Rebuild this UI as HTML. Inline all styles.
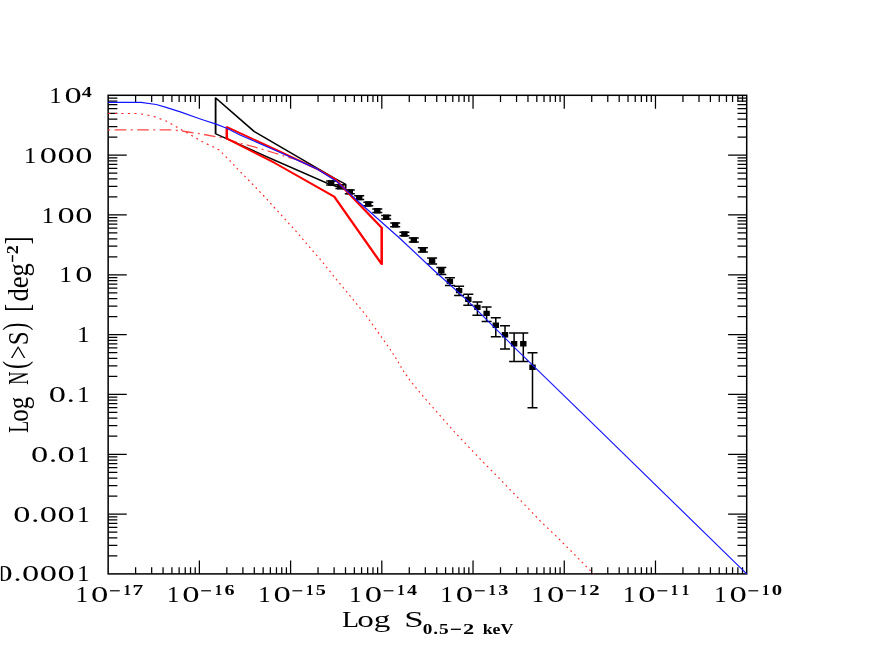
<!DOCTYPE html>
<html><head><meta charset="utf-8"><title>Log N - Log S</title>
<style>
html,body{margin:0;padding:0;background:#fff;}
body{width:872px;height:654px;overflow:hidden;}
svg{display:block;will-change:transform;}
text{font-family:"Liberation Serif",serif;fill:#000;}
</style></head><body>
<svg width="872" height="654" viewBox="0 0 872 654">
<rect x="0" y="0" width="872" height="654" fill="#fff"/>
<defs><clipPath id="cutL"><rect x="1.0" y="540" width="60" height="60"/></clipPath></defs>
<path d="M135.61,95.30 v6.7 M135.61,573.90 v-6.7 M151.67,95.30 v6.7 M151.67,573.90 v-6.7 M163.07,95.30 v6.7 M163.07,573.90 v-6.7 M171.91,95.30 v6.7 M171.91,573.90 v-6.7 M179.13,95.30 v6.7 M179.13,573.90 v-6.7 M185.24,95.30 v6.7 M185.24,573.90 v-6.7 M190.53,95.30 v6.7 M190.53,573.90 v-6.7 M195.20,95.30 v6.7 M195.20,573.90 v-6.7 M199.37,95.30 v13.4 M199.37,573.90 v-13.4 M226.83,95.30 v6.7 M226.83,573.90 v-6.7 M242.90,95.30 v6.7 M242.90,573.90 v-6.7 M254.29,95.30 v6.7 M254.29,573.90 v-6.7 M263.13,95.30 v6.7 M263.13,573.90 v-6.7 M270.36,95.30 v6.7 M270.36,573.90 v-6.7 M276.46,95.30 v6.7 M276.46,573.90 v-6.7 M281.75,95.30 v6.7 M281.75,573.90 v-6.7 M286.42,95.30 v6.7 M286.42,573.90 v-6.7 M290.59,95.30 v13.4 M290.59,573.90 v-13.4 M318.05,95.30 v6.7 M318.05,573.90 v-6.7 M334.12,95.30 v6.7 M334.12,573.90 v-6.7 M345.51,95.30 v6.7 M345.51,573.90 v-6.7 M354.35,95.30 v6.7 M354.35,573.90 v-6.7 M361.58,95.30 v6.7 M361.58,573.90 v-6.7 M367.68,95.30 v6.7 M367.68,573.90 v-6.7 M372.97,95.30 v6.7 M372.97,573.90 v-6.7 M377.64,95.30 v6.7 M377.64,573.90 v-6.7 M381.81,95.30 v13.4 M381.81,573.90 v-13.4 M409.27,95.30 v6.7 M409.27,573.90 v-6.7 M425.34,95.30 v6.7 M425.34,573.90 v-6.7 M436.74,95.30 v6.7 M436.74,573.90 v-6.7 M445.58,95.30 v6.7 M445.58,573.90 v-6.7 M452.80,95.30 v6.7 M452.80,573.90 v-6.7 M458.91,95.30 v6.7 M458.91,573.90 v-6.7 M464.20,95.30 v6.7 M464.20,573.90 v-6.7 M468.86,95.30 v6.7 M468.86,573.90 v-6.7 M473.04,95.30 v13.4 M473.04,573.90 v-13.4 M500.50,95.30 v6.7 M500.50,573.90 v-6.7 M516.56,95.30 v6.7 M516.56,573.90 v-6.7 M527.96,95.30 v6.7 M527.96,573.90 v-6.7 M536.80,95.30 v6.7 M536.80,573.90 v-6.7 M544.02,95.30 v6.7 M544.02,573.90 v-6.7 M550.13,95.30 v6.7 M550.13,573.90 v-6.7 M555.42,95.30 v6.7 M555.42,573.90 v-6.7 M560.08,95.30 v6.7 M560.08,573.90 v-6.7 M564.26,95.30 v13.4 M564.26,573.90 v-13.4 M591.72,95.30 v6.7 M591.72,573.90 v-6.7 M607.78,95.30 v6.7 M607.78,573.90 v-6.7 M619.18,95.30 v6.7 M619.18,573.90 v-6.7 M628.02,95.30 v6.7 M628.02,573.90 v-6.7 M635.24,95.30 v6.7 M635.24,573.90 v-6.7 M641.35,95.30 v6.7 M641.35,573.90 v-6.7 M646.64,95.30 v6.7 M646.64,573.90 v-6.7 M651.30,95.30 v6.7 M651.30,573.90 v-6.7 M655.48,95.30 v13.4 M655.48,573.90 v-13.4 M682.94,95.30 v6.7 M682.94,573.90 v-6.7 M699.00,95.30 v6.7 M699.00,573.90 v-6.7 M710.40,95.30 v6.7 M710.40,573.90 v-6.7 M719.24,95.30 v6.7 M719.24,573.90 v-6.7 M726.46,95.30 v6.7 M726.46,573.90 v-6.7 M732.57,95.30 v6.7 M732.57,573.90 v-6.7 M737.86,95.30 v6.7 M737.86,573.90 v-6.7 M742.53,95.30 v6.7 M742.53,573.90 v-6.7 M108.15,555.89 h9.2 M746.70,555.89 h-9.2 M108.15,545.36 h9.2 M746.70,545.36 h-9.2 M108.15,537.88 h9.2 M746.70,537.88 h-9.2 M108.15,532.08 h9.2 M746.70,532.08 h-9.2 M108.15,527.35 h9.2 M746.70,527.35 h-9.2 M108.15,523.34 h9.2 M746.70,523.34 h-9.2 M108.15,519.87 h9.2 M746.70,519.87 h-9.2 M108.15,516.81 h9.2 M746.70,516.81 h-9.2 M108.15,514.07 h18.6 M746.70,514.07 h-18.6 M108.15,496.07 h9.2 M746.70,496.07 h-9.2 M108.15,485.53 h9.2 M746.70,485.53 h-9.2 M108.15,478.06 h9.2 M746.70,478.06 h-9.2 M108.15,472.26 h9.2 M746.70,472.26 h-9.2 M108.15,467.52 h9.2 M746.70,467.52 h-9.2 M108.15,463.52 h9.2 M746.70,463.52 h-9.2 M108.15,460.05 h9.2 M746.70,460.05 h-9.2 M108.15,456.99 h9.2 M746.70,456.99 h-9.2 M108.15,454.25 h18.6 M746.70,454.25 h-18.6 M108.15,436.24 h9.2 M746.70,436.24 h-9.2 M108.15,425.71 h9.2 M746.70,425.71 h-9.2 M108.15,418.23 h9.2 M746.70,418.23 h-9.2 M108.15,412.43 h9.2 M746.70,412.43 h-9.2 M108.15,407.70 h9.2 M746.70,407.70 h-9.2 M108.15,403.69 h9.2 M746.70,403.69 h-9.2 M108.15,400.22 h9.2 M746.70,400.22 h-9.2 M108.15,397.16 h9.2 M746.70,397.16 h-9.2 M108.15,394.43 h18.6 M746.70,394.43 h-18.6 M108.15,376.42 h9.2 M746.70,376.42 h-9.2 M108.15,365.88 h9.2 M746.70,365.88 h-9.2 M108.15,358.41 h9.2 M746.70,358.41 h-9.2 M108.15,352.61 h9.2 M746.70,352.61 h-9.2 M108.15,347.87 h9.2 M746.70,347.87 h-9.2 M108.15,343.87 h9.2 M746.70,343.87 h-9.2 M108.15,340.40 h9.2 M746.70,340.40 h-9.2 M108.15,337.34 h9.2 M746.70,337.34 h-9.2 M108.15,334.60 h18.6 M746.70,334.60 h-18.6 M108.15,316.59 h9.2 M746.70,316.59 h-9.2 M108.15,306.06 h9.2 M746.70,306.06 h-9.2 M108.15,298.58 h9.2 M746.70,298.58 h-9.2 M108.15,292.78 h9.2 M746.70,292.78 h-9.2 M108.15,288.05 h9.2 M746.70,288.05 h-9.2 M108.15,284.04 h9.2 M746.70,284.04 h-9.2 M108.15,280.57 h9.2 M746.70,280.57 h-9.2 M108.15,277.51 h9.2 M746.70,277.51 h-9.2 M108.15,274.77 h18.6 M746.70,274.77 h-18.6 M108.15,256.77 h9.2 M746.70,256.77 h-9.2 M108.15,246.23 h9.2 M746.70,246.23 h-9.2 M108.15,238.76 h9.2 M746.70,238.76 h-9.2 M108.15,232.96 h9.2 M746.70,232.96 h-9.2 M108.15,228.22 h9.2 M746.70,228.22 h-9.2 M108.15,224.22 h9.2 M746.70,224.22 h-9.2 M108.15,220.75 h9.2 M746.70,220.75 h-9.2 M108.15,217.69 h9.2 M746.70,217.69 h-9.2 M108.15,214.95 h18.6 M746.70,214.95 h-18.6 M108.15,196.94 h9.2 M746.70,196.94 h-9.2 M108.15,186.41 h9.2 M746.70,186.41 h-9.2 M108.15,178.93 h9.2 M746.70,178.93 h-9.2 M108.15,173.13 h9.2 M746.70,173.13 h-9.2 M108.15,168.40 h9.2 M746.70,168.40 h-9.2 M108.15,164.39 h9.2 M746.70,164.39 h-9.2 M108.15,160.92 h9.2 M746.70,160.92 h-9.2 M108.15,157.86 h9.2 M746.70,157.86 h-9.2 M108.15,155.12 h18.6 M746.70,155.12 h-18.6 M108.15,137.12 h9.2 M746.70,137.12 h-9.2 M108.15,126.58 h9.2 M746.70,126.58 h-9.2 M108.15,119.11 h9.2 M746.70,119.11 h-9.2 M108.15,113.31 h9.2 M746.70,113.31 h-9.2 M108.15,108.57 h9.2 M746.70,108.57 h-9.2 M108.15,104.57 h9.2 M746.70,104.57 h-9.2 M108.15,101.10 h9.2 M746.70,101.10 h-9.2 M108.15,98.04 h9.2 M746.70,98.04 h-9.2" fill="none" stroke="#000" stroke-width="1.25"/>
<rect x="108.15" y="95.30" width="638.55" height="478.60" fill="none" stroke="#000" stroke-width="1.5"/>
<path d="M331.2,181.1 V184.9 M326.2,181.1 H336.2 M326.2,184.9 H336.2 M340.4,184.8 V188.6 M335.4,184.8 H345.4 M335.4,188.6 H345.4 M349.8,190.0 V193.8 M344.8,190.0 H354.8 M344.8,193.8 H354.8 M359.2,195.7 V199.5 M354.2,195.7 H364.2 M354.2,199.5 H364.2 M368.3,202.2 V205.8 M363.3,202.2 H373.3 M363.3,205.8 H373.3 M377.3,208.9 V212.5 M372.3,208.9 H382.3 M372.3,212.5 H382.3 M386.2,215.5 V219.1 M381.2,215.5 H391.2 M381.2,219.1 H391.2 M395.2,223.1 V226.7 M390.2,223.1 H400.2 M390.2,226.7 H400.2 M404.4,232.2 V235.8 M399.4,232.2 H409.4 M399.4,235.8 H409.4 M413.8,238.1 V241.9 M408.8,238.1 H418.8 M408.8,241.9 H418.8 M422.9,247.8 V252.0 M417.9,247.8 H427.9 M417.9,252.0 H427.9 M432.1,257.9 V263.9 M427.1,257.9 H437.1 M427.1,263.9 H437.1 M441.3,267.6 V274.4 M436.3,267.6 H446.3 M436.3,274.4 H446.3 M449.9,277.7 V285.6 M444.9,277.7 H454.9 M444.9,285.6 H454.9 M459.1,286.3 V295.5 M454.1,286.3 H464.1 M454.1,295.5 H464.1 M468.3,294.2 V305.2 M463.3,294.2 H473.3 M463.3,305.2 H473.3 M477.4,301.9 V315.2 M472.4,301.9 H482.4 M472.4,315.2 H482.4 M486.6,307.0 V321.5 M481.6,307.0 H491.6 M481.6,321.5 H491.6 M495.8,317.7 V336.8 M490.8,317.7 H500.8 M490.8,336.8 H500.8 M505.0,325.7 V349.0 M500.0,325.7 H510.0 M500.0,349.0 H510.0 M514.1,333.0 V361.5 M509.1,333.0 H519.1 M509.1,361.5 H519.1 M523.3,333.0 V361.5 M518.3,333.0 H528.3 M518.3,361.5 H528.3 M532.5,352.7 V407.7 M527.5,352.7 H537.5 M527.5,407.7 H537.5" fill="none" stroke="#000" stroke-width="1.5"/>
<path d="M328.0,180.3 h6.4 v5.4 h-6.4 z M337.2,184.0 h6.4 v5.4 h-6.4 z M346.6,189.2 h6.4 v5.4 h-6.4 z M356.0,194.9 h6.4 v5.4 h-6.4 z M365.1,201.3 h6.4 v5.4 h-6.4 z M374.1,208.0 h6.4 v5.4 h-6.4 z M383.0,214.6 h6.4 v5.4 h-6.4 z M392.0,222.2 h6.4 v5.4 h-6.4 z M401.2,231.3 h6.4 v5.4 h-6.4 z M410.6,237.3 h6.4 v5.4 h-6.4 z M419.7,247.2 h6.4 v5.4 h-6.4 z M428.9,258.0 h6.4 v5.4 h-6.4 z M438.1,268.0 h6.4 v5.4 h-6.4 z M446.7,278.7 h6.4 v5.4 h-6.4 z M455.9,287.9 h6.4 v5.4 h-6.4 z M465.1,296.7 h6.4 v5.4 h-6.4 z M474.2,304.7 h6.4 v5.4 h-6.4 z M483.4,310.7 h6.4 v5.4 h-6.4 z M492.6,322.6 h6.4 v5.4 h-6.4 z M501.8,332.0 h6.4 v5.4 h-6.4 z M510.9,341.0 h6.4 v5.4 h-6.4 z M520.1,341.0 h6.4 v5.4 h-6.4 z M529.3,364.6 h6.4 v5.4 h-6.4 z" fill="#000"/>
<g transform="scale(1.4,1)"><path d="M154.00,97.8 L181.57,131.5 L239.21,178.5 L246.86,184.2 L246.86,189.6 L234.36,183.6 L196.43,160.4 L154.00,133.8 Z" fill="none" stroke="#000" stroke-width="1.3" stroke-linejoin="round"/></g>
<path d="M108.2,113.5 L110.3,113.5 M114.8,113.5 L116.9,113.5 M121.4,113.5 L123.5,113.5 M127.9,113.5 L130.0,113.5 M134.5,113.5 L136.6,113.5 M141.1,114.0 L143.1,114.2 M147.5,115.0 L149.4,115.5 M153.7,116.5 L153.8,116.5 L155.6,117.1 M159.6,118.6 L161.5,119.2 M165.5,120.7 L167.1,121.6 M170.6,123.6 L172.3,124.5 M175.8,126.5 L177.4,127.5 M180.9,129.4 L182.6,130.4 M186.1,132.3 L187.8,133.3 M191.3,135.3 L192.9,136.2 M196.3,138.3 L198.0,139.2 M201.4,141.2 L202.0,141.6 L203.1,142.1 M206.8,143.9 L208.6,144.7 M212.3,146.5 L214.1,147.3 M217.6,149.2 L219.3,150.1 M221.9,152.7 L223.0,154.0 M225.7,156.6 L226.5,157.3 L227.0,157.8 M229.6,160.4 L230.8,161.6 M233.3,164.3 L234.4,165.5 M236.8,168.2 L238.0,169.4 M240.6,172.1 L241.8,173.3 M244.4,175.9 L245.6,177.1 M248.2,179.7 L249.4,181.0 M252.0,183.6 L253.2,184.8 M255.7,187.5 L256.9,188.7 M259.4,191.3 L260.6,192.6 M263.1,195.2 L264.3,196.5 M266.8,199.1 L267.9,200.4 M270.3,203.1 L271.5,204.3 M273.9,207.0 L275.1,208.3 M277.5,211.0 L278.7,212.2 M281.1,214.9 L281.2,215.0 L282.2,216.2 M284.7,218.8 L285.8,220.1 M288.3,222.8 L289.4,224.0 M291.9,226.7 L293.0,228.0 M295.5,230.7 L296.5,231.8 L296.6,231.9 M298.9,234.7 L300.0,235.9 M302.3,238.7 L303.4,240.0 M305.7,242.7 L306.8,244.0 M309.2,246.7 L310.3,248.0 M312.6,250.7 L313.7,252.0 M316.1,254.7 L317.2,255.9 M319.6,258.7 L320.6,259.8 L320.7,259.9 M322.9,262.7 L324.0,264.0 M326.2,266.8 L327.2,268.1 M329.5,270.9 L330.5,272.2 M332.7,275.0 L333.8,276.3 M336.0,279.0 L337.1,280.3 M339.4,283.1 L340.5,284.4 M342.8,287.1 L343.8,288.4 M346.1,291.1 L347.2,292.4 M349.5,295.2 L350.6,296.5 M352.8,299.2 L353.9,300.5 M356.2,303.3 L357.2,304.6 M359.5,307.3 L360.5,308.6 M362.8,311.4 L363.8,312.7 M366.0,315.5 L367.0,316.8 M369.0,319.7 L370.0,321.0 M372.1,323.8 L373.0,325.2 M375.1,328.0 L376.0,329.4 M378.0,332.2 L379.0,333.6 M381.0,336.4 L381.9,337.8 M384.0,340.6 L384.9,342.0 M386.9,344.8 L387.9,346.2 M389.9,349.0 L390.8,350.4 M392.7,353.3 L393.6,354.6 M395.5,357.5 L395.9,358.1 L396.4,358.9 M398.1,361.8 L398.9,363.2 M400.6,366.2 L401.4,367.6 M403.2,370.5 L403.5,371.1 L404.0,371.9 M406.0,374.7 L407.0,376.1 M409.0,378.9 L409.6,379.8 L410.0,380.3 M412.2,383.0 L413.2,384.3 M415.5,387.1 L416.5,388.4 L416.5,388.4 M418.8,391.2 L419.9,392.4 M422.2,395.2 L423.3,396.5 M425.6,399.2 L426.7,400.5 M429.1,403.2 L430.2,404.5 M432.6,407.2 L433.7,408.4 M436.1,411.1 L437.2,412.4 M439.6,415.1 L440.8,416.4 M443.1,419.1 L444.3,420.4 M446.7,423.1 L447.8,424.3 M450.2,427.0 L451.3,428.3 M453.7,431.0 L454.8,432.3 M457.3,435.0 L458.5,436.2 M461.0,438.8 L462.2,440.1 M464.7,442.7 L465.8,444.0 M468.4,446.6 L469.5,447.9 M472.1,450.5 L473.2,451.7 M475.8,454.4 L477.0,455.6 M479.5,458.3 L480.7,459.5 M483.2,462.1 L484.4,463.4 M486.9,466.0 L488.2,467.2 M490.8,469.8 L492.0,471.1 M494.6,473.6 L495.8,474.9 M498.5,477.5 L499.6,478.7 M502.2,481.4 L503.3,482.6 M505.9,485.2 L507.0,486.5 M509.6,489.1 L510.2,489.8 L510.7,490.4 M513.3,493.0 L514.5,494.2 M517.1,496.8 L518.3,498.1 M520.8,500.7 L522.0,501.9 M524.6,504.6 L525.3,505.3 L525.8,505.8 M528.3,508.4 L529.5,509.7 M532.0,512.3 L533.2,513.6 M535.7,516.2 L536.9,517.5 M539.4,520.1 L540.5,521.3 L540.6,521.4 M543.2,523.9 L544.5,525.1 M547.2,527.7 L548.4,528.9 M551.1,531.4 L552.4,532.6 M555.1,535.2 L556.3,536.4 M559.0,539.0 L560.2,540.2 M562.8,542.8 L564.0,544.0 M566.6,546.6 L567.8,547.8 M570.5,550.5 L571.7,551.7 M574.3,554.3 L575.5,555.5 M578.1,558.1 L579.3,559.3 M581.8,562.0 L583.1,563.2 M585.6,565.8 L586.8,567.0 M589.4,569.7 L590.6,570.9 M593.2,573.5 L593.6,573.9" fill="none" stroke="#ff2020" stroke-width="1.15"/>
<path d="M108.2,129.8 L110.2,129.8 M114.6,129.8 L126.3,129.8 M130.7,129.8 L132.7,129.8 M137.2,129.8 L148.8,129.8 M153.3,129.8 L155.2,129.8 M159.7,129.8 L169.9,129.8 L171.3,129.9 M175.8,130.3 L177.7,130.5 M182.1,131.1 L188.2,132.0 L193.5,132.8 M197.9,133.4 L199.1,133.6 L199.8,133.7 M204.1,134.5 L215.4,136.7 M219.7,137.4 L221.1,137.6 L221.6,137.7 M225.8,138.9 L236.5,142.1 M240.7,143.3 L242.2,143.7 L242.5,143.8 M246.7,144.9 L257.6,147.8 M261.7,149.1 L263.5,149.6 M267.6,150.9 L268.4,151.2 L274.4,153.0 L278.3,154.2 M282.4,155.5 L284.2,156.1 M288.3,157.3 L295.0,159.2" fill="none" stroke="#ff4848" stroke-width="1.3"/>
<g transform="scale(1.4,1)"><path d="M162.00,127.1 L196.43,149.2 L226.50,168.9 L239.43,179.3 L272.64,227.7 L272.64,264.2 L238.86,196.8 L196.43,163.1 L162.00,138.5 Z" fill="none" stroke="#ff0000" stroke-width="1.8" stroke-linejoin="round"/></g>
<path d="M108.20,102.4 L141.00,102.4 L156.20,104.5 L165.30,107.1 L180.30,111.9 L198.90,118.5 L203.30,120.0 L216.10,124.1 L226.80,128.3 L240.00,135.0 L275.00,150.3 L281.30,153.0 L317.10,168.9 L336.30,181.2 L355.10,198.7 L360.00,203.0 L400.00,238.5 L433.00,269.5 L467.30,300.4 L515.60,348.6 L588.40,419.4 L746.70,573.9" fill="none" stroke="#1414ff" stroke-width="1.15" stroke-linejoin="round"/>
<text transform="translate(75.21,162.68) scale(1.498,1.0)" font-size="23.0">0</text>
<text transform="translate(57.46,162.68) scale(1.498,1.0)" font-size="23.0">0</text>
<text transform="translate(39.71,162.68) scale(1.498,1.0)" font-size="23.0">0</text>
<text transform="translate(23.83,162.68) scale(1.111,1.0)" font-size="23.0">1</text>
<text transform="translate(75.21,222.50) scale(1.498,1.0)" font-size="23.0">0</text>
<text transform="translate(57.46,222.50) scale(1.498,1.0)" font-size="23.0">0</text>
<text transform="translate(41.58,222.50) scale(1.111,1.0)" font-size="23.0">1</text>
<text transform="translate(75.21,282.32) scale(1.498,1.0)" font-size="23.0">0</text>
<text transform="translate(59.33,282.32) scale(1.111,1.0)" font-size="23.0">1</text>
<text transform="translate(77.08,342.15) scale(1.111,1.0)" font-size="23.0">1</text>
<text transform="translate(77.08,401.98) scale(1.111,1.0)" font-size="23.0">1</text>
<text transform="translate(66.63,401.98) scale(1.398,1.0)" font-size="23.0">.</text>
<text transform="translate(48.86,401.98) scale(1.498,1.0)" font-size="23.0">0</text>
<text transform="translate(77.08,461.80) scale(1.111,1.0)" font-size="23.0">1</text>
<text transform="translate(57.46,461.80) scale(1.498,1.0)" font-size="23.0">0</text>
<text transform="translate(48.88,461.80) scale(1.398,1.0)" font-size="23.0">.</text>
<text transform="translate(31.11,461.80) scale(1.498,1.0)" font-size="23.0">0</text>
<text transform="translate(77.08,521.62) scale(1.111,1.0)" font-size="23.0">1</text>
<text transform="translate(57.46,521.62) scale(1.498,1.0)" font-size="23.0">0</text>
<text transform="translate(39.71,521.62) scale(1.498,1.0)" font-size="23.0">0</text>
<text transform="translate(31.13,521.62) scale(1.398,1.0)" font-size="23.0">.</text>
<text transform="translate(13.36,521.62) scale(1.498,1.0)" font-size="23.0">0</text>
<text transform="translate(77.08,581.45) scale(1.111,1.0)" font-size="23.0">1</text>
<text transform="translate(57.46,581.45) scale(1.498,1.0)" font-size="23.0">0</text>
<text transform="translate(39.71,581.45) scale(1.498,1.0)" font-size="23.0">0</text>
<text transform="translate(21.96,581.45) scale(1.498,1.0)" font-size="23.0">0</text>
<text transform="translate(13.38,581.45) scale(1.398,1.0)" font-size="23.0">.</text>
<g clip-path="url(#cutL)"><text transform="translate(-4.39,581.45) scale(1.498,1.0)" font-size="23.0">0</text></g>
<path d="M1.7,566.4 V580.9" stroke="#000" stroke-width="1.6" fill="none"/>
<text transform="translate(49.13,102.95) scale(1.074,1.0)" font-size="23.0">1</text>
<text transform="translate(64.59,102.95) scale(1.498,1.0)" font-size="23.0">0</text>
<text transform="translate(81.63,96.85) scale(1.376,1.0)" font-size="14.6" font-weight="bold">4</text>
<text transform="translate(75.45,601.60) scale(1.111,1.0)" font-size="23.0">1</text>
<text transform="translate(90.98,601.60) scale(1.508,1.0)" font-size="23.0">0</text>
<text transform="translate(109.05,598.81) scale(1.572,1.8)" font-size="13.4">−</text>
<text transform="translate(123.50,594.90) scale(1.023,1.0)" font-size="14.6" font-weight="bold">1</text>
<text transform="translate(132.62,594.90) scale(1.473,1.0)" font-size="14.6" font-weight="bold">7</text>
<text transform="translate(166.67,601.60) scale(1.111,1.0)" font-size="23.0">1</text>
<text transform="translate(182.20,601.60) scale(1.508,1.0)" font-size="23.0">0</text>
<text transform="translate(200.27,598.81) scale(1.572,1.8)" font-size="13.4">−</text>
<text transform="translate(214.73,594.90) scale(1.023,1.0)" font-size="14.6" font-weight="bold">1</text>
<text transform="translate(224.48,594.90) scale(1.381,1.0)" font-size="14.6" font-weight="bold">6</text>
<text transform="translate(257.90,601.60) scale(1.111,1.0)" font-size="23.0">1</text>
<text transform="translate(273.42,601.60) scale(1.508,1.0)" font-size="23.0">0</text>
<text transform="translate(291.49,598.81) scale(1.572,1.8)" font-size="13.4">−</text>
<text transform="translate(305.95,594.90) scale(1.023,1.0)" font-size="14.6" font-weight="bold">1</text>
<text transform="translate(315.68,594.90) scale(1.391,1.0)" font-size="14.6" font-weight="bold">5</text>
<text transform="translate(349.12,601.60) scale(1.111,1.0)" font-size="23.0">1</text>
<text transform="translate(364.64,601.60) scale(1.508,1.0)" font-size="23.0">0</text>
<text transform="translate(382.72,598.81) scale(1.572,1.8)" font-size="13.4">−</text>
<text transform="translate(397.17,594.90) scale(1.023,1.0)" font-size="14.6" font-weight="bold">1</text>
<text transform="translate(407.04,594.90) scale(1.376,1.0)" font-size="14.6" font-weight="bold">4</text>
<text transform="translate(440.34,601.60) scale(1.111,1.0)" font-size="23.0">1</text>
<text transform="translate(455.86,601.60) scale(1.508,1.0)" font-size="23.0">0</text>
<text transform="translate(473.94,598.81) scale(1.572,1.8)" font-size="13.4">−</text>
<text transform="translate(488.39,594.90) scale(1.023,1.0)" font-size="14.6" font-weight="bold">1</text>
<text transform="translate(498.18,594.90) scale(1.376,1.0)" font-size="14.6" font-weight="bold">3</text>
<text transform="translate(531.56,601.60) scale(1.111,1.0)" font-size="23.0">1</text>
<text transform="translate(547.09,601.60) scale(1.508,1.0)" font-size="23.0">0</text>
<text transform="translate(565.16,598.81) scale(1.572,1.8)" font-size="13.4">−</text>
<text transform="translate(579.61,594.90) scale(1.023,1.0)" font-size="14.6" font-weight="bold">1</text>
<text transform="translate(589.29,594.90) scale(1.419,1.0)" font-size="14.6" font-weight="bold">2</text>
<text transform="translate(622.78,601.60) scale(1.111,1.0)" font-size="23.0">1</text>
<text transform="translate(638.31,601.60) scale(1.508,1.0)" font-size="23.0">0</text>
<text transform="translate(656.38,598.81) scale(1.572,1.8)" font-size="13.4">−</text>
<text transform="translate(670.83,594.90) scale(1.023,1.0)" font-size="14.6" font-weight="bold">1</text>
<text transform="translate(681.73,594.90) scale(1.023,1.0)" font-size="14.6" font-weight="bold">1</text>
<text transform="translate(714.00,601.60) scale(1.111,1.0)" font-size="23.0">1</text>
<text transform="translate(729.53,601.60) scale(1.508,1.0)" font-size="23.0">0</text>
<text transform="translate(747.60,598.81) scale(1.572,1.8)" font-size="13.4">−</text>
<text transform="translate(762.05,594.90) scale(1.023,1.0)" font-size="14.6" font-weight="bold">1</text>
<text transform="translate(771.71,594.90) scale(1.422,1.0)" font-size="14.6" font-weight="bold">0</text>
<text transform="translate(341.99,627.10) scale(1.260,1.0)" font-size="22.2" style="font-kerning:none">L</text>
<text transform="translate(357.24,627.10) scale(1.495,1.0)" font-size="22.2" style="font-kerning:none">og</text>
<text transform="translate(404.37,627.10) scale(1.571,1.0)" font-size="22.2" style="font-kerning:none">S</text>
<text transform="translate(422.86,633.60) scale(1.401,1.0)" font-size="13.8" font-weight="bold" letter-spacing="0.6" style="font-kerning:none">0.5</text>
<text transform="translate(449.93,637.91) scale(1.557,1.9)" font-size="13.8">−</text>
<text transform="translate(463.06,633.60) scale(1.624,1.0)" font-size="13.8" font-weight="bold">2</text>
<text transform="translate(482.66,633.60) scale(1.289,1.0)" font-size="13.8" font-weight="bold" style="font-kerning:none">keV</text>
<text transform="translate(27.5,432.86) rotate(-90) scale(0.888,1.36)" font-size="22" style="font-kerning:none">L</text>
<text transform="translate(27.5,421.75) rotate(-90) scale(1.138,1.36)" font-size="22" style="font-kerning:none">og</text>
<text transform="translate(27.5,384.73) rotate(-90) scale(0.834,1.36)" font-size="22" style="font-kerning:none">N</text>
<text transform="translate(26.1,369.04) rotate(-90) scale(1.080,1.49)" font-size="22" style="font-kerning:none">(</text>
<text transform="translate(27.5,359.35) rotate(-90) scale(1.123,1.36)" font-size="22" style="font-kerning:none">&gt;</text>
<text transform="translate(27.5,345.28) rotate(-90) scale(1.138,1.36)" font-size="22" style="font-kerning:none">S</text>
<text transform="translate(26.1,330.57) rotate(-90) scale(1.080,1.49)" font-size="22" style="font-kerning:none">)</text>
<text transform="translate(28.4,311.67) rotate(-90) scale(1.082,1.57)" font-size="22" style="font-kerning:none">[</text>
<text transform="translate(27.5,301.56) rotate(-90) scale(1.211,1.36)" font-size="22" style="font-kerning:none">deg</text>
<text transform="translate(22.0952,262.73) rotate(-90) scale(1.124,2.2)" font-size="13" style="font-kerning:none">−</text>
<text transform="translate(17.9,254.26) rotate(-90) scale(1.390,1.36)" font-size="13" font-weight="bold" style="font-kerning:none">2</text>
<text transform="translate(28.4,244.38) rotate(-90) scale(1.102,1.57)" font-size="22" style="font-kerning:none">]</text>
</svg>
</body></html>
